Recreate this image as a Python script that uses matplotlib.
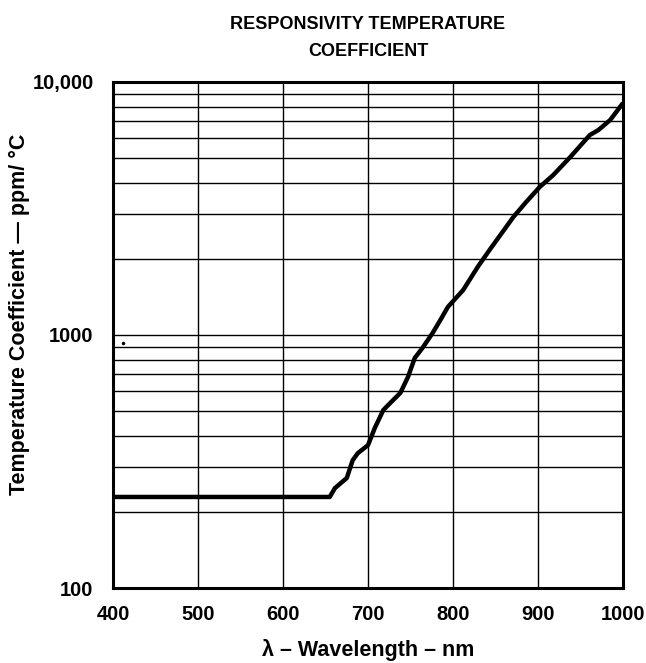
import numpy as np
import matplotlib.pyplot as plt
from matplotlib.ticker import FixedLocator, NullFormatter

plt.rcParams['font.family'] = ['Liberation Sans', 'DejaVu Sans']

# Data
wavelength = [400, 655, 661, 675, 682, 688, 700, 708, 718, 726, 738, 747, 755,
              764, 776, 785, 794, 812, 829, 843, 871, 885, 902, 918, 938, 961,
              971, 985, 1000]
tc_ppm = [229, 229, 248, 272, 320, 341, 367, 429, 505, 538, 590, 682, 811,
          888, 1018, 1144, 1291, 1506, 1856, 2168, 2926, 3323, 3846, 4290, 5053,
          6173, 6457, 7079, 8260]

x_ticks = [400, 500, 600, 700, 800, 900, 1000]
y_ticks = [100, 1000, 10000]
y_tick_labels = ["100", "1000", "10,000"]
y_minor = [m * d for d in (100, 1000) for m in range(2, 10)]

fig = plt.figure(figsize=(6.46, 6.63), dpi=100)
ax = fig.add_axes([113 / 646, 1 - 588 / 663, 510 / 646, 506 / 663])

ax.plot(wavelength, tc_ppm, color="black", linewidth=3.2, solid_capstyle="butt",
        solid_joinstyle="round", zorder=3)
# stray dot in the original scan
ax.plot([412], [930], marker="o", markersize=1.5, color="black")

ax.set_yscale("log")
ax.set_xlim(400, 1000)
ax.set_ylim(100, 10000)

ax.set_xticks(x_ticks)
ax.set_xticklabels([str(v) for v in x_ticks], fontsize=14.5, fontweight="bold")
ax.set_yticks(y_ticks)
ax.set_yticklabels(y_tick_labels, fontsize=14.5, fontweight="bold")
ax.yaxis.set_minor_locator(FixedLocator(y_minor))
ax.yaxis.set_minor_formatter(NullFormatter())
ax.tick_params(axis="both", which="both", length=0)
ax.tick_params(axis="x", pad=12)
ax.tick_params(axis="y", pad=14)

ax.grid(True, which="both", color="black", linewidth=1.0)
ax.set_axisbelow(True)
for s in ax.spines.values():
    s.set_linewidth(2.2)

ax.set_xlabel("λ – Wavelength – nm", fontsize=15.5, fontweight="bold", labelpad=11)
ax.set_ylabel("Temperature Coefficient — ppm/ °C", fontsize=15.5, fontweight="bold")
ax.yaxis.set_label_coords(-0.163, 0.54)
ax.set_title("RESPONSIVITY TEMPERATURE\nCOEFFICIENT", fontsize=13, fontweight="bold",
             pad=19, linespacing=1.75)

fig.savefig("out.png", dpi=100)
